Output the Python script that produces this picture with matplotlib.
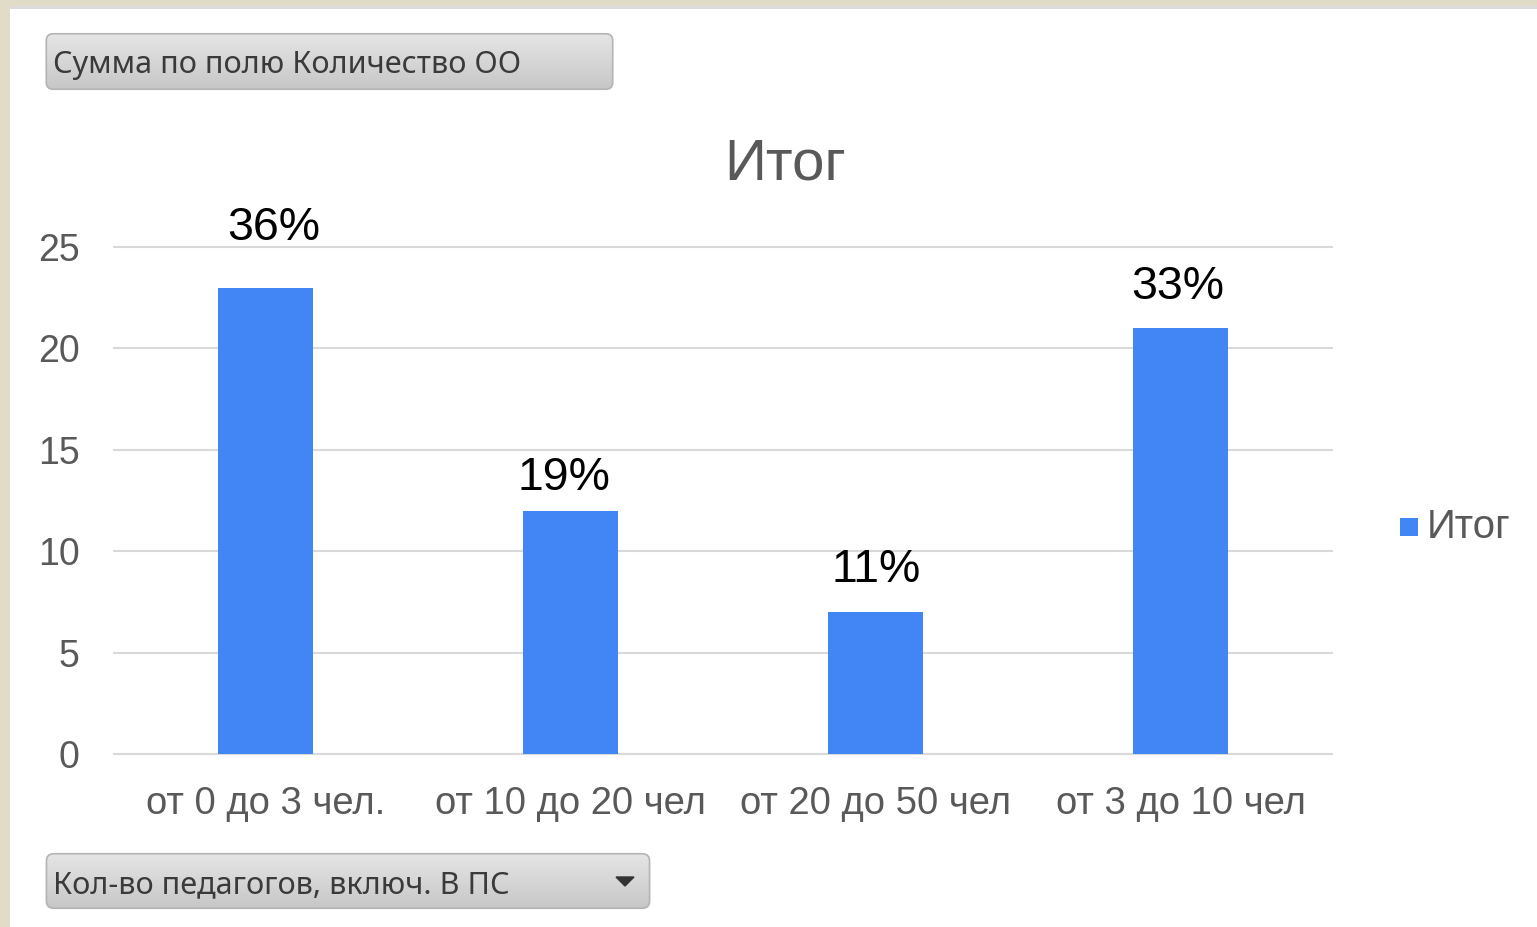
import numpy as np
import matplotlib.pyplot as plt
from matplotlib.patches import FancyBboxPatch, Rectangle, Polygon

# Data
categories = ['от 0 до 3 чел.', 'от 10 до 20 чел', 'от 20 до 50 чел', 'от 3 до 10 чел']
values = [23, 12, 7, 21]
percents = [36, 19, 11, 33]
yticks = [0, 5, 10, 15, 20, 25]
series_name = 'Итог'
field_button = 'Сумма по полю Количество ОО'
axis_button = 'Кол-во педагогов, включ. В ПС'

# label offsets (pixels) - labels were placed by hand in the original
label_dx = [8, -7, 1, -3]
label_dy = [48, 21, 30, 29]

W, H = 1537, 927
plt.rcParams['font.family'] = ['Liberation Sans', 'DejaVu Sans']

fig = plt.figure(figsize=(W / 100, H / 100), dpi=100)
fig.patch.set_facecolor('white')

# window frame
fig.add_artist(Rectangle((0, 0), 10 / W, 1, transform=fig.transFigure, color='#e0dcc8', lw=0))
fig.add_artist(Rectangle((0, 1 - 6 / H), 1, 6 / H, transform=fig.transFigure, color='#e0dcc8', lw=0))
fig.add_artist(Rectangle((10 / W, 1 - 9 / H), 1, 3 / H, transform=fig.transFigure, color='#dcdcdc', lw=0))


def pivot_button(x0, y0, x1, y1, text, arrow=False):
    # grey gradient button like the excel pivot field buttons
    bax = fig.add_axes([x0 / W, 1 - y1 / H, (x1 - x0) / W, (y1 - y0) / H])
    bax.set_xlim(0, 1)
    bax.set_ylim(0, 1)
    bax.axis('off')
    grad = np.linspace(0, 1, 64).reshape(-1, 1)
    img = bax.imshow(grad, extent=(0, 1, 0, 1), aspect='auto', cmap=plt.matplotlib.colors.LinearSegmentedColormap.from_list('g', ['#c6c6c6', '#e6e6e6']), origin='lower')
    box = FancyBboxPatch((0.004, 0.03), 0.992, 0.94, boxstyle='round,pad=0,rounding_size=0.012',
                         mutation_aspect=(x1 - x0) / (y1 - y0), fc='none', ec='#b4b4b4', lw=1.2,
                         transform=bax.transAxes)
    bax.add_patch(box)
    img.set_clip_path(box)
    fig.text((x0 + 9) / W, 1 - ((y0 + y1) / 2 + 4) / H, text, ha='left', va='center',
             fontsize=22, color='#3a3a3a', family=['Noto Sans', 'DejaVu Sans'])
    if arrow:
        ax_ = 625
        cy = (y0 + y1) / 2
        tri = Polygon([((ax_ - 9) / W, 1 - (cy - 4) / H), ((ax_ + 9) / W, 1 - (cy - 4) / H), (ax_ / W, 1 - (cy + 5) / H)],
                      closed=True, transform=fig.transFigure, color='#333333')
        fig.add_artist(tri)


pivot_button(44, 32, 615, 91, field_button)
pivot_button(44, 852, 652, 910, axis_button, arrow=True)

# chart
ax = fig.add_axes([113 / W, 173 / H, 1220 / W, 507 / H])
x = np.arange(len(categories))
ax.bar(x, values, width=0.31, color='#4285F4', zorder=3)
ax.hlines(yticks, -0.5, 3.5, colors='#d9d9d9', lw=1.5, clip_on=False, zorder=1)
ax.set_xlim(-0.5, 3.5)
ax.set_ylim(0, 25)
ax.set_yticks(yticks)
ax.set_xticks(x)
ax.set_xticklabels(categories)
for s in ax.spines.values():
    s.set_visible(False)
ax.tick_params(axis='y', length=0, pad=24, labelsize=27, labelcolor='#595959')
ax.tick_params(axis='x', length=0, pad=23, labelsize=27.5, labelcolor='#595959')

for i, v in enumerate(values):
    ax.annotate('{}%'.format(percents[i]), (x[i], v), xytext=(label_dx[i], label_dy[i]),
                textcoords='offset pixels', ha='center', va='baseline', fontsize=33.5, color='black')

fig.text(785 / W, 1 - 180 / H, series_name, ha='center', va='baseline', fontsize=42, color='#595959')

# legend
fig.add_artist(Rectangle((1400 / W, 1 - 536 / H), 18 / W, 18 / H, transform=fig.transFigure, color='#4285F4', lw=0))
fig.text(1427 / W, 1 - 527 / H, series_name, ha='left', va='center', fontsize=29, color='#595959')

fig.savefig('out.png', dpi=100)
